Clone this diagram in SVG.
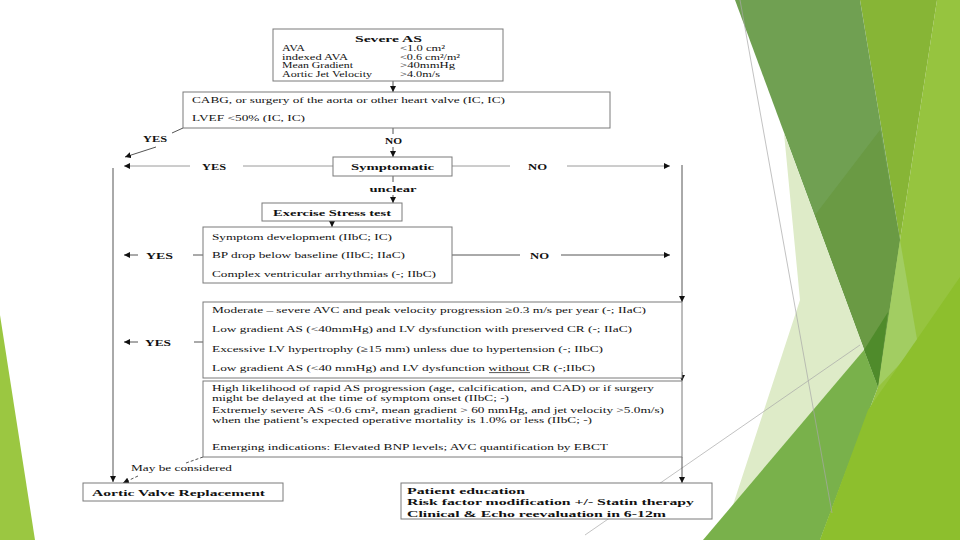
<svg xmlns="http://www.w3.org/2000/svg" width="960" height="540" viewBox="0 0 960 540">
<defs>
<marker id="ah" viewBox="0 0 6 6" refX="6" refY="3" markerWidth="6" markerHeight="6" markerUnits="userSpaceOnUse" orient="auto"><path d="M0,0 L6,3 L0,6 Z" fill="#111"/></marker>
<style>
.box{fill:#fff;stroke:#7a7a7a;stroke-width:1}
.t{font-family:"Liberation Serif","Times New Roman",serif;font-size:9px;fill:#111}
.s{font-size:8px}
.p{font-size:8.5px}
.b{font-weight:bold}
.ln{fill:none;stroke:#555;stroke-width:1}
.lt{stroke:#9a9a9a}
.ar{marker-end:url(#ah)}
.dash{stroke-dasharray:3 2}
.thin{fill:none;stroke:#a8a8a8;stroke-width:0.7}
</style>
</defs>
<rect width="960" height="540" fill="#fff"/>
<g id="decor">
<polygon points="0,315 35,540 0,540" fill="#9BC741"/>
<polygon points="937,0 960,0 960,540 820,540 878,387 900,240" fill="#96C43F"/>
<polygon points="860,0 937,0 900,240" fill="#87B536"/>
<polygon points="735,0 860,0 900,240 878,387" fill="#70A052"/>
<polygon points="815,215 880,130 900,240 878,387" fill="#6A9A44"/>
<polygon points="784,133 878,387 733,505 800,300" fill="#DEEBC8"/>
<polygon points="900,240 918,345 878,387" fill="#A2CD62"/>
<polygon points="703,540 864,350 878,387 820,540" fill="#79B14B"/>
<polygon points="864,350 888,312 878,387" fill="#4F8B2B"/>
<polygon points="820,540 868,410 960,277 960,540" fill="#8DBF2D"/>
<line class="thin" x1="740" y1="0" x2="832" y2="513"/>
<line class="thin" x1="585" y1="535" x2="860" y2="345"/>
</g>
<g id="connectors">
<line class="ln ar" x1="393" y1="81" x2="393" y2="92"/>
<line class="ln" x1="393" y1="128" x2="393" y2="134"/>
<line class="ln ar" x1="393" y1="147" x2="393" y2="157"/>
<line class="ln" x1="183" y1="128" x2="172" y2="133"/>
<line class="ln ar" x1="156" y1="147" x2="125" y2="157"/>
<line class="ln lt" x1="333" y1="166" x2="243" y2="166"/>
<line class="ln lt ar" x1="190" y1="166" x2="124" y2="166"/>
<line class="ln lt" x1="452" y1="166" x2="510" y2="166"/>
<line class="ln lt ar" x1="567" y1="166" x2="670" y2="166"/>
<line class="ln" x1="393" y1="176" x2="393" y2="182"/>
<line class="ln ar" x1="393" y1="195" x2="393" y2="203"/>
<line class="ln ar" x1="332" y1="221" x2="332" y2="227"/>
<line class="ln ar" x1="138" y1="255" x2="124" y2="255"/>
<line class="ln" x1="193" y1="255" x2="203" y2="255"/>
<line class="ln" x1="452" y1="255" x2="520" y2="255"/>
<line class="ln ar" x1="561" y1="255" x2="670" y2="255"/>
<line class="ln ar" x1="138" y1="342" x2="124" y2="342"/>
<line class="ln" x1="194" y1="342" x2="203" y2="342"/>
<line class="ln ar" x1="113" y1="168" x2="113" y2="482"/>
<line class="ln ar" x1="682" y1="165" x2="682" y2="302"/>
<line class="ln ar" x1="682" y1="372" x2="682" y2="381"/>
<line class="ln ar" x1="682" y1="457" x2="682" y2="483"/>
<line class="ln dash" x1="203" y1="457" x2="186" y2="463"/>
<line class="ln dash ar" x1="138" y1="476" x2="123" y2="483"/>
<text class="t b" x="143" y="142" font-size="8.5" textLength="24" lengthAdjust="spacingAndGlyphs">YES</text>
<text class="t b" x="385" y="144" font-size="8.5" textLength="17" lengthAdjust="spacingAndGlyphs">NO</text>
<text class="t b" x="202" y="169.5" font-size="8.5" textLength="24" lengthAdjust="spacingAndGlyphs">YES</text>
<text class="t b" x="528" y="169.5" font-size="8.5" textLength="19" lengthAdjust="spacingAndGlyphs">NO</text>
<text class="t b" x="369.5" y="192" font-size="9.5" textLength="47" lengthAdjust="spacingAndGlyphs">unclear</text>
<text class="t b" x="146" y="258.5" font-size="8.5" textLength="27" lengthAdjust="spacingAndGlyphs">YES</text>
<text class="t b" x="530" y="258.5" font-size="8.5" textLength="19" lengthAdjust="spacingAndGlyphs">NO</text>
<text class="t b" x="145" y="345.5" font-size="8.5" textLength="26" lengthAdjust="spacingAndGlyphs">YES</text>
<text class="t" x="131" y="471" textLength="101" lengthAdjust="spacingAndGlyphs">May be considered</text>
</g>
<g id="severe-as">
<rect class="box" x="273" y="29" width="230" height="52"/>
<text class="t b" x="355" y="42" font-size="10.5" textLength="67" lengthAdjust="spacingAndGlyphs">Severe AS</text>
<text class="t s" x="282" y="51" textLength="23" lengthAdjust="spacingAndGlyphs">AVA</text>
<text class="t s" x="282" y="59.5" textLength="66" lengthAdjust="spacingAndGlyphs">indexed AVA</text>
<text class="t s" x="282" y="68" textLength="71" lengthAdjust="spacingAndGlyphs">Mean Gradient</text>
<text class="t s" x="282" y="76.5" textLength="90" lengthAdjust="spacingAndGlyphs">Aortic Jet Velocity</text>
<text class="t s" x="400" y="51" textLength="45" lengthAdjust="spacingAndGlyphs">&lt;1.0 cm²</text>
<text class="t s" x="400" y="59.5" textLength="60" lengthAdjust="spacingAndGlyphs">&lt;0.6 cm²/m²</text>
<text class="t s" x="400" y="68" textLength="55" lengthAdjust="spacingAndGlyphs">&gt;40mmHg</text>
<text class="t s" x="400" y="76.5" textLength="40" lengthAdjust="spacingAndGlyphs">&gt;4.0m/s</text>
</g>
<g id="surgery">
<rect class="box" x="183" y="92" width="427" height="36"/>
<text class="t" x="192" y="103" textLength="313" lengthAdjust="spacingAndGlyphs">CABG, or surgery of the aorta or other heart valve (IC, IC)</text>
<text class="t" x="192" y="121" textLength="113" lengthAdjust="spacingAndGlyphs">LVEF &lt;50% (IC, IC)</text>
</g>
<g id="symptomatic">
<rect class="box" x="333" y="157" width="119" height="19"/>
<text class="t b" x="351" y="170" font-size="10" textLength="83" lengthAdjust="spacingAndGlyphs">Symptomatic</text>
</g>
<g id="exercise">
<rect class="box" x="262" y="203" width="140" height="18"/>
<text class="t b" x="273" y="215.5" font-size="9.5" textLength="118" lengthAdjust="spacingAndGlyphs">Exercise Stress test</text>
</g>
<g id="stress-results">
<rect class="box" x="203" y="227" width="249" height="56"/>
<text class="t" x="212" y="239.5" textLength="180" lengthAdjust="spacingAndGlyphs">Symptom development (IIbC; IC)</text>
<text class="t" x="212" y="258" textLength="193" lengthAdjust="spacingAndGlyphs">BP drop below baseline (IIbC; IIaC)</text>
<text class="t" x="212" y="276.5" textLength="224" lengthAdjust="spacingAndGlyphs">Complex ventricular arrhythmias (-; IIbC)</text>
</g>
<g id="criteria">
<rect class="box" x="203" y="302" width="479" height="76"/>
<text class="t" x="212" y="313" textLength="434" lengthAdjust="spacingAndGlyphs">Moderate – severe AVC and peak velocity progression ≥0.3 m/s per year (-; IIaC)</text>
<text class="t" x="212" y="332" textLength="420" lengthAdjust="spacingAndGlyphs">Low gradient AS (&lt;40mmHg) and LV dysfunction with preserved CR (-; IIaC)</text>
<text class="t" x="212" y="351.5" textLength="391" lengthAdjust="spacingAndGlyphs">Excessive LV hypertrophy (≥15 mm) unless due to hypertension (-; IIbC)</text>
<text class="t" x="212" y="371" textLength="383" lengthAdjust="spacingAndGlyphs">Low gradient AS (&lt;40 mmHg) and LV dysfunction without CR (-;IIbC)</text>
<line x1="489" y1="372.6" x2="530" y2="372.6" stroke="#111" stroke-width="0.7"/>
</g>
<g id="considered">
<rect class="box" x="203" y="381" width="479" height="76"/>
<text class="t p" x="212" y="391" textLength="442" lengthAdjust="spacingAndGlyphs">High likelihood of rapid AS progression (age, calcification, and CAD) or if surgery</text>
<text class="t p" x="212" y="401" textLength="297" lengthAdjust="spacingAndGlyphs">might be delayed at the time of symptom onset (IIbC; -)</text>
<text class="t p" x="212" y="413" textLength="452" lengthAdjust="spacingAndGlyphs">Extremely severe AS &lt;0.6 cm², mean gradient &gt; 60 mmHg, and jet velocity &gt;5.0m/s)</text>
<text class="t p" x="212" y="423" textLength="380" lengthAdjust="spacingAndGlyphs">when the patient’s expected operative mortality is 1.0% or less (IIbC; -)</text>
<text class="t p" x="212" y="450" textLength="396" lengthAdjust="spacingAndGlyphs">Emerging indications: Elevated BNP levels; AVC quantification by EBCT</text>
</g>
<g id="avr">
<rect class="box" x="83" y="483" width="200" height="18"/>
<text class="t b" x="92" y="495.5" font-size="11" textLength="173" lengthAdjust="spacingAndGlyphs">Aortic Valve Replacement</text>
</g>
<g id="followup">
<rect class="box" x="401" y="483" width="311" height="36"/>
<text class="t b" x="407" y="493.5" font-size="11" textLength="118" lengthAdjust="spacingAndGlyphs">Patient education</text>
<text class="t b" x="407" y="505" font-size="11" textLength="287" lengthAdjust="spacingAndGlyphs">Risk factor modification +/- Statin therapy</text>
<text class="t b" x="407" y="516.5" font-size="11" textLength="259" lengthAdjust="spacingAndGlyphs">Clinical &amp; Echo reevaluation in 6-12m</text>
</g>
</svg>
